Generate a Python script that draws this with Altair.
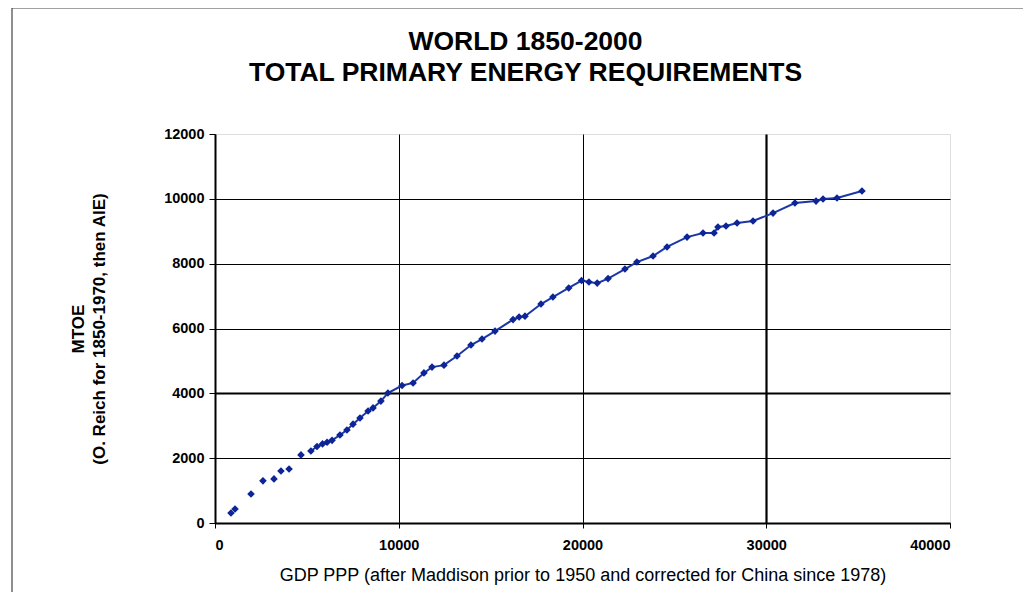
import altair as alt
import pandas as pd

# Early (decadal) observations, drawn as unconnected markers
early_gdp = [870, 1090, 1960, 2610, 3210, 3590, 4030, 4680]
early_energy = [310, 430, 895, 1300, 1360, 1605, 1665, 2100]

# Later (yearly) observations, connected by a line
gdp = [5220, 5550, 5850, 6100, 6370, 6800, 7180, 7510, 7890, 8330, 8600, 9030,
       9410, 10180, 10780, 11370, 11810, 12460, 13170, 13930, 14530, 15240,
       16220, 16550, 16870, 17740, 18390, 19250, 19950, 20350, 20800, 21390,
       22310, 22960, 23840, 24600, 25690, 26560, 27160, 27370, 27810, 28410,
       29280, 30370, 31560, 32710, 33090, 33850, 35210]
energy = [2220, 2360, 2440, 2490, 2550, 2715, 2870, 3050, 3240, 3455, 3550, 3760,
          4010, 4240, 4320, 4630, 4810, 4870, 5150, 5490, 5675, 5920,
          6275, 6355, 6380, 6755, 6970, 7250, 7480, 7435, 7400, 7540,
          7835, 8050, 8235, 8515, 8820, 8945, 8945, 9130, 9160, 9255,
          9315, 9560, 9870, 9930, 9995, 10025, 10240]

x_ticks = [0, 10000, 20000, 30000, 40000]
y_ticks = [0, 2000, 4000, 6000, 8000, 10000, 12000]

df_early = pd.DataFrame({"gdp": early_gdp, "energy": early_energy})
df_late = pd.DataFrame({"gdp": gdp, "energy": energy})

FONT = "Liberation Sans"
MARK = "#0d2596"
LINE = "#1c37a6"

x_enc = alt.X(
    "gdp:Q",
    scale=alt.Scale(domain=[0, 40000], nice=False),
    axis=alt.Axis(
        values=x_ticks, format="d",
        title="GDP PPP (after Maddison prior to 1950 and corrected for China since 1978)",
        titleFont=FONT, titleFontSize=18, titleFontWeight="normal", titleColor="black",
        titlePadding=15,
        labelFont=FONT, labelFontSize=14.5, labelFontWeight="bold", labelColor="black",
        labelPadding=10,
        domainColor="black", domainWidth=2, tickColor="black", tickSize=5, tickWidth=1,
        grid=True,
        gridColor={"condition": {"test": "datum.value === 40000", "value": "transparent"}, "value": "black"},
        gridWidth={"condition": {"test": "datum.value === 30000", "value": 2.2}, "value": 1},
        gridOpacity=1,
    ),
)
y_enc = alt.Y(
    "energy:Q",
    scale=alt.Scale(domain=[0, 12000], nice=False),
    axis=alt.Axis(
        values=y_ticks, format="d",
        title=["MTOE", "(O. Reich for 1850-1970, then AIE)"],
        titleFont=FONT, titleFontSize=17, titleFontWeight="bold", titleColor="black",
        titleLineHeight=21, titlePadding=55,
        labelFont=FONT, labelFontSize=14.5, labelFontWeight="bold", labelColor="black",
        labelPadding=5,
        domainColor="black", domainWidth=2, tickColor="black", tickSize=6, tickWidth=1,
        grid=True,
        gridColor={"condition": {"test": "datum.value === 12000", "value": "transparent"}, "value": "black"},
        gridWidth={"condition": {"test": "datum.value === 4000", "value": 2.2}, "value": 1},
        gridOpacity=1,
    ),
)

early_pts = alt.Chart(df_early).mark_point(
    shape="diamond", filled=True, size=58, color=MARK, opacity=1
).encode(x=x_enc, y=y_enc)

late_line = alt.Chart(df_late).mark_line(color=LINE, strokeWidth=2).encode(
    x="gdp:Q", y="energy:Q"
)
late_pts = alt.Chart(df_late).mark_point(
    shape="diamond", filled=True, size=58, color=MARK, opacity=1
).encode(x="gdp:Q", y="energy:Q")

frame_df = pd.DataFrame({"k": [0]})
frame_left = alt.Chart(frame_df).mark_rule(color="#444", strokeWidth=1.2, clip=False).encode(
    x=alt.value(-203), y=alt.value(-126), y2=alt.value(470)
)
frame_top = alt.Chart(frame_df).mark_rule(color="#444", strokeWidth=1.2, clip=False).encode(
    x=alt.value(-203), x2=alt.value(820), y=alt.value(-126)
)

chart = alt.layer(early_pts, late_line, late_pts, frame_left, frame_top).properties(
    width=735,
    height=389,
    padding={"left": 207, "top": 126, "right": 73, "bottom": 69},
    autosize=alt.AutoSizeParams(type="none"),
    title=alt.Title(
        ["WORLD 1850-2000", "TOTAL PRIMARY ENERGY REQUIREMENTS"],
        font=FONT, fontSize=26.5, fontWeight="bold", color="black",
        anchor="middle", dx=-57, offset=-79, lineHeight=31,
    ),
).configure_view(stroke="#9cc59c", strokeWidth=1.5).configure(background="white")

chart.save("out.html", embed_options={"renderer": "svg", "actions": False})
